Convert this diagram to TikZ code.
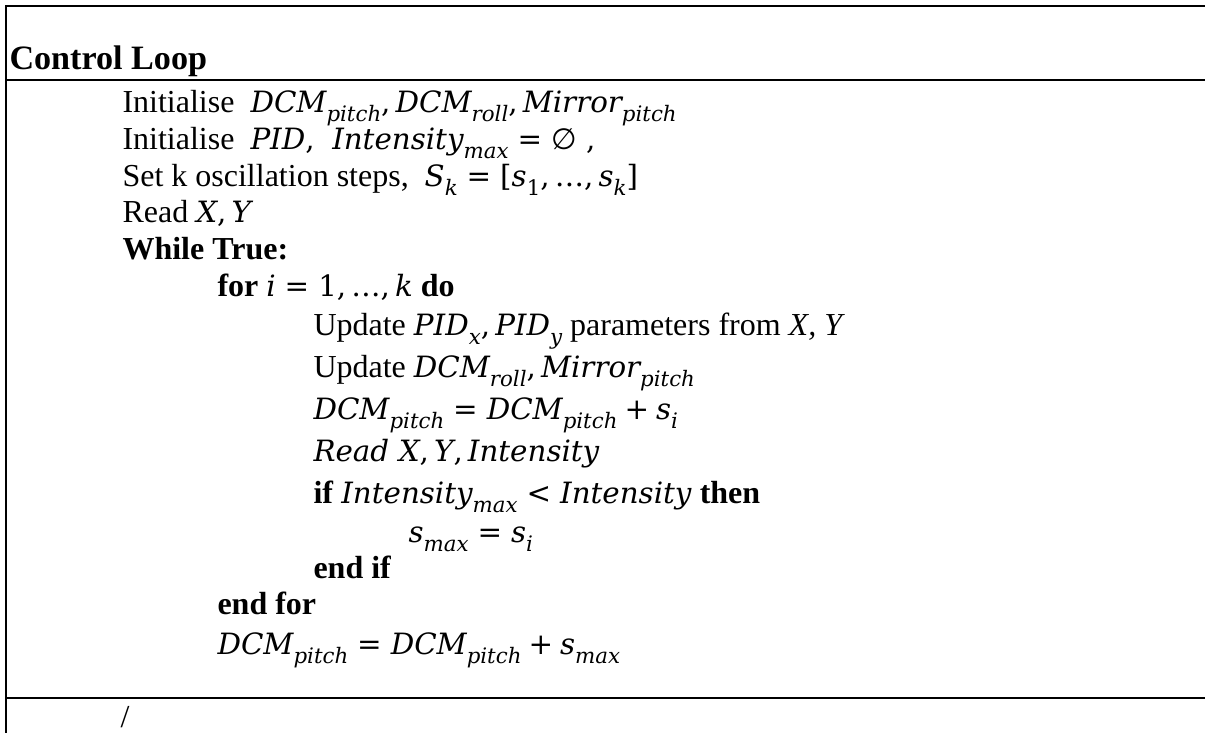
\documentclass[tikz,border=0pt]{standalone}
\usepackage{fontspec}
\setmainfont{Liberation Serif}
\newfontfamily\mf{DejaVu Serif}
\newfontfamily\symf{DejaVu Sans}
\newcommand\mi[1]{{\mf\fontsize{11}{13}\selectfont\itshape #1}}
\newcommand\mr[1]{{\mf\fontsize{11}{13}\selectfont #1}}
\newcommand\sbs[1]{\raisebox{-0.3em}{\mf\fontsize{8}{9}\selectfont\itshape #1}}
\newcommand\sbr[1]{\raisebox{-0.3em}{\mf\fontsize{8}{9}\selectfont #1}}
\newcommand\cm{\mr{,}\hspace{0.16em}}
\newcommand\rel[1]{\hspace{0.28em}\mr{#1}\hspace{0.28em}}
\newcommand\bin[1]{\hspace{0.22em}\mr{#1}\hspace{0.22em}}
\begin{document}
\begin{tikzpicture}[x=0.375pt,y=-0.375pt,
  txt/.style={anchor=base west,inner sep=0pt,font=\fontsize{12}{14}\selectfont},
  ttl/.style={anchor=base west,inner sep=0pt,font=\fontsize{12.8}{15}\selectfont\bfseries},
  border/.style={line width=0.75pt,black}]
\useasboundingbox (0,0) rectangle (1205,733);
% table borders
\draw[border] (1205,6) -- (6,6) -- (6,733);
\draw[border] (6,80) -- (1205,80);
\draw[border] (6,698) -- (1205,698);
% title
\node[ttl] (title) at (9,69) {Control Loop};
% level 1
\node[txt] (r1) at (122,112) {Initialise\hspace{0.5em}\mi{DCM}\sbs{pitch}\cm\mi{DCM}\sbs{roll}\cm\mi{Mirror}\sbs{pitch}};
\node[txt] (r2) at (122,149) {Initialise\hspace{0.5em}\mi{PID}\mr{,}\hspace{0.55em}\mi{Intensity}\sbs{max}\rel{=}{\symf\fontsize{11}{13}\selectfont ∅}\hspace{0.3em}\mr{,}};
\node[txt] (r3) at (122,186) {Set k oscillation steps,\hspace{0.5em}\mi{S}\sbs{k}\rel{=}\mr{[}\mi{s}\sbr{1}\cm\mr{…}\cm\mi{s}\sbs{k}\mr{]}};
\node[txt] (r4) at (122,222) {Read \mi{X}\cm\mi{Y}};
\node[txt] (r5) at (122,259) {\textbf{While True:}};
% level 2
\node[txt] (r6) at (217,296) {\textbf{for }\mi{i}\rel{=}\mr{1}\cm\mr{…}\cm\mi{k}\textbf{ do}};
% level 3
\node[txt] (r7) at (313,335) {Update \mi{PID}\sbs{x}\cm\mi{PID}\sbs{y} parameters from \textit{X, Y}};
\node[txt] (r8) at (313,377) {Update \mi{DCM}\sbs{roll}\cm\mi{Mirror}\sbs{pitch}};
\node[txt] (r9) at (313,419) {\mi{DCM}\sbs{pitch}\rel{=}\mi{DCM}\sbs{pitch}\bin{+}\mi{s}\sbs{i}};
\node[txt] (r10) at (313,461) {\mi{Read}\hspace{0.3em}\mi{X}\cm\mi{Y}\cm\mi{Intensity}};
\node[txt] (r11) at (313,503) {\textbf{if }\mi{Intensity}\sbs{max}\rel{<}\mi{Intensity}\textbf{ then}};
% level 4
\node[txt] (r12) at (408,542) {\mi{s}\sbs{max}\rel{=}\mi{s}\sbs{i}};
\node[txt] (r13) at (313,578) {\textbf{end if}};
\node[txt] (r14) at (217,614) {\textbf{end for}};
\node[txt] (r15) at (217,654) {\mi{DCM}\sbs{pitch}\rel{=}\mi{DCM}\sbs{pitch}\bin{+}\mi{s}\sbs{max}};
% next row
\node[txt] (slash) at (120,727) {/};
\end{tikzpicture}
\end{document}
